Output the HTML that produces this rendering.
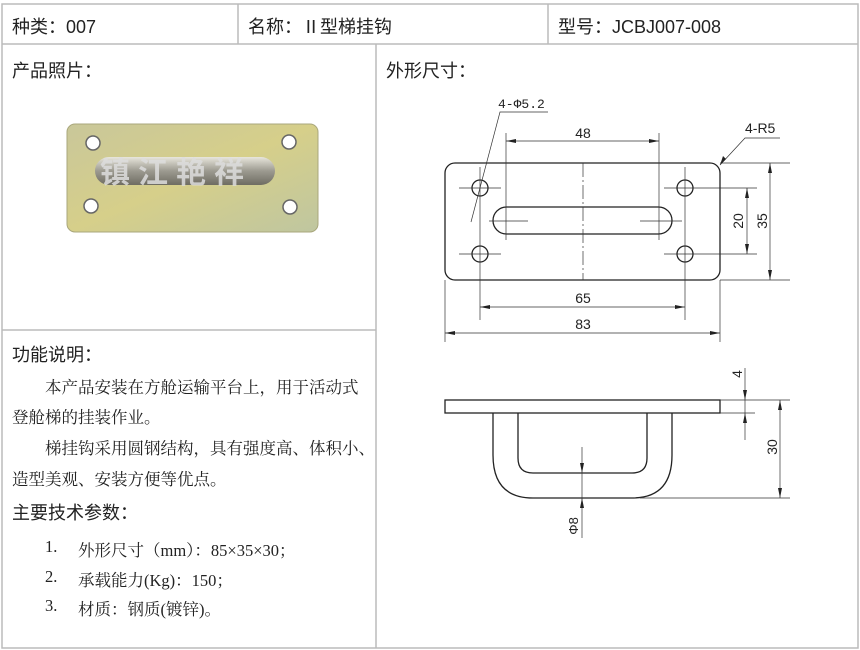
<!DOCTYPE html>
<html><head><meta charset="utf-8"><style>
body{margin:0;background:#fff;width:860px;height:650px;position:relative;overflow:hidden;font-family:"Liberation Sans","Noto Sans CJK SC",sans-serif;color:#222}
.t{position:absolute;white-space:nowrap}
.h{font-size:18px}
.s{font-family:"Liberation Serif","Noto Serif CJK SC",serif;font-size:16.5px}
</style></head><body>
<svg width="860" height="650" style="position:absolute;left:0;top:0">
<g stroke="#bbb" stroke-width="1.5" fill="none">
<rect x="2" y="4" width="856" height="644"/>
<line x1="2" y1="44" x2="858" y2="44"/>
<line x1="238" y1="4" x2="238" y2="44"/>
<line x1="548" y1="4" x2="548" y2="44"/>
<line x1="376" y1="44" x2="376" y2="648"/>
<line x1="2" y1="330" x2="376" y2="330"/>
</g>
<defs><linearGradient id="g" x1="0" y1="0" x2="1" y2="1"><stop offset="0" stop-color="#c9c79a"/><stop offset="0.5" stop-color="#d6cf8a"/><stop offset="1" stop-color="#bfc6a0"/></linearGradient>
<linearGradient id="r" x1="0" y1="0" x2="0" y2="1"><stop offset="0" stop-color="#e8e6dc"/><stop offset="0.5" stop-color="#9c9a90"/><stop offset="1" stop-color="#6e6c62"/></linearGradient></defs>
<rect x="67" y="124" width="251" height="108" rx="8" fill="url(#g)" stroke="#a9a77c"/>
<g fill="#fff" stroke="#666" stroke-width="1.5"><circle cx="93" cy="143" r="7"/><circle cx="289" cy="142" r="7"/><circle cx="91" cy="206" r="7"/><circle cx="290" cy="207" r="7"/></g>
<rect x="95" y="157" width="180" height="28" rx="14" fill="url(#r)"/>
<text x="100" y="183" font-size="30" font-weight="bold" fill="#ddd" fill-opacity="0.85" font-family="Noto Sans CJK SC,sans-serif" letter-spacing="8">镇江艳祥</text>
<g stroke="#222" stroke-width="1.3" fill="none">
<rect x="445" y="163" width="275" height="117" rx="10"/>
<circle cx="480" cy="188" r="8"/><circle cx="685" cy="188" r="8"/><circle cx="480" cy="254" r="8"/><circle cx="685" cy="254" r="8"/>
<rect x="493" y="207" width="179" height="27" rx="13.5"/>
</g>
<g stroke="#333" stroke-width="0.7" fill="none">
<line x1="583" y1="163" x2="583" y2="280" stroke-dasharray="14,3,2,3"/>
<line x1="459" y1="188" x2="501" y2="188"/><line x1="664" y1="188" x2="757" y2="188"/>
<line x1="459" y1="254" x2="501" y2="254"/><line x1="664" y1="254" x2="757" y2="254"/>
<line x1="480" y1="167" x2="480" y2="320"/><line x1="685" y1="167" x2="685" y2="320"/>
<line x1="489" y1="221" x2="528" y2="221"/><line x1="640" y1="221" x2="682" y2="221"/>
<line x1="506" y1="133" x2="506" y2="240"/><line x1="659" y1="133" x2="659" y2="240"/>
<line x1="506" y1="141" x2="659" y2="141"/>
<line x1="480" y1="307" x2="685" y2="307"/>
<line x1="445" y1="280" x2="445" y2="342"/><line x1="720" y1="280" x2="720" y2="342"/>
<line x1="445" y1="333" x2="720" y2="333"/>
<line x1="720" y1="163" x2="790" y2="163"/><line x1="720" y1="280" x2="790" y2="280"/>
<line x1="770" y1="163" x2="770" y2="280"/>
<line x1="747" y1="188" x2="747" y2="254"/>
<polyline points="720,165 745,138 780,138"/>
<polyline points="471,222 500,112 548,112"/>
</g>
<g fill="#222">
<path d="M506,141 l10,-2 v4z M659,141 l-10,-2 v4z M480,307 l10,-2 v4z M685,307 l-10,-2 v4z M445,333 l10,-2 v4z M720,333 l-10,-2 v4z M770,163 l-2,10 h4z M770,280 l-2,-10 h4z M747,188 l-2,10 h4z M747,254 l-2,-10 h4z M720,165 l3,-9 l3,3z"/>
</g>
<g font-size="14" fill="#222" font-family="Liberation Sans,sans-serif">
<text x="583" y="138" text-anchor="middle">48</text>
<text x="583" y="303" text-anchor="middle">65</text>
<text x="583" y="329" text-anchor="middle">83</text>
<text x="745" y="133">4-R5</text>
<text x="498" y="108" font-family="Liberation Mono,monospace" font-size="13">4-Φ5.2</text>
<text transform="translate(767,221) rotate(-90)" text-anchor="middle">35</text>
<text transform="translate(743,221) rotate(-90)" text-anchor="middle">20</text>
</g>
<g stroke="#222" stroke-width="1.3" fill="none">
<rect x="445" y="400" width="275" height="13"/>
<path d="M493,413 V455 Q493,498 533,498 H632 Q672,498 672,455 V413"/>
<path d="M518,413 V458 Q518,473 533,473 H632 Q647,473 647,458 V413"/>
</g>
<g stroke="#333" stroke-width="0.7" fill="none">
<line x1="582" y1="447" x2="582" y2="538"/>
<line x1="720" y1="400" x2="790" y2="400"/><line x1="720" y1="413" x2="755" y2="413"/>
<line x1="745" y1="368" x2="745" y2="440"/>
<line x1="640" y1="498" x2="790" y2="498"/>
<line x1="780" y1="400" x2="780" y2="498"/>
</g>
<g fill="#222"><path d="M745,400 l-2,-10 h4z M745,413 l-2,10 h4z M780,400 l-2,10 h4z M780,498 l-2,-10 h4z M582,473 l-2,-10 h4z M582,498 l-2,10 h4z"/></g>
<g font-size="14" fill="#222" font-family="Liberation Sans,sans-serif">
<text transform="translate(742,374) rotate(-90)" text-anchor="middle">4</text>
<text transform="translate(777,447) rotate(-90)" text-anchor="middle">30</text>
<text transform="translate(578,526) rotate(-90)" text-anchor="middle" font-size="13">Φ8</text>
</g>
</svg>
<div class="t h" style="left:12px;top:13px">种类：007</div>
<div class="t h" style="left:248px;top:13px">名称：Ⅱ型梯挂钩</div>
<div class="t h" style="left:558px;top:13px">型号：JCBJ007-008</div>
<div class="t h" style="left:12px;top:57px">产品照片：</div>
<div class="t h" style="left:386px;top:57px">外形尺寸：</div>
<div class="t h" style="left:12px;top:341px">功能说明：</div>
<div class="t s" style="left:45px;top:374px">本产品安装在方舱运输平台上，用于活动式</div>
<div class="t s" style="left:12px;top:404px">登舱梯的挂装作业。</div>
<div class="t s" style="left:45px;top:435px">梯挂钩采用圆钢结构，具有强度高、体积小、</div>
<div class="t s" style="left:12px;top:466px">造型美观、安装方便等优点。</div>
<div class="t h" style="left:12px;top:499px">主要技术参数：</div>
<div class="t s" style="left:45px;top:537px">1.</div><div class="t s" style="left:78px;top:537px">外形尺寸（mm）：85×35×30；</div>
<div class="t s" style="left:45px;top:567px">2.</div><div class="t s" style="left:78px;top:567px">承载能力(Kg)：150；</div>
<div class="t s" style="left:45px;top:596px">3.</div><div class="t s" style="left:78px;top:596px">材质：钢质(镀锌)。</div>
</body></html>
